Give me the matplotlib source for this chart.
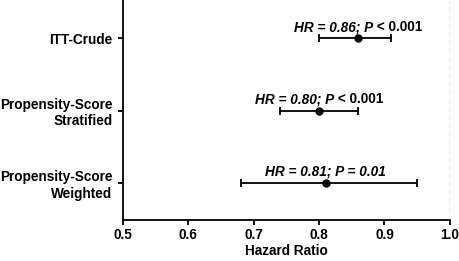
import matplotlib
matplotlib.use("Agg")
import matplotlib.pyplot as plt
from matplotlib.offsetbox import TextArea, HPacker, AnnotationBbox

plt.rcParams['font.family'] = ['Liberation Sans', 'DejaVu Sans']

categories = ["ITT-Crude", "Propensity-Score\nStratified", "Propensity-Score\nWeighted"]
hr = [0.86, 0.80, 0.81]
ci_low = [0.80, 0.74, 0.68]
ci_high = [0.91, 0.86, 0.95]
label_italic = ["HR = 0.86; P", "HR = 0.80; P", "HR = 0.81; P = 0.01"]
label_plain = [" < 0.001", " < 0.001", ""]
xticks = [0.5, 0.6, 0.7, 0.8, 0.9, 1.0]

ypos = [3, 2, 1]
FS = 9.8

fig = plt.figure(figsize=(4.6, 2.61), dpi=100)
ax = fig.add_axes([0.267, 0.158, 0.711, 0.842])

xerr = [[h - l for h, l in zip(hr, ci_low)], [u - h for h, u in zip(hr, ci_high)]]
ax.errorbar(hr, ypos, xerr=xerr, fmt='o', color='black', ms=5, elinewidth=1.3,
            capsize=3.2, capthick=1.3, zorder=3)

ax.axvline(1.0, color='#999999', ls=(0, (4, 2)), lw=1.0, zorder=1)

for h, y, ti, tp in zip(hr, ypos, label_italic, label_plain):
    children = [TextArea(ti, textprops=dict(fontsize=FS, fontweight='bold', fontstyle='italic'))]
    if tp:
        children.append(TextArea(tp, textprops=dict(fontsize=FS, fontweight='bold')))
    pack = HPacker(children=children, pad=0, sep=0, align='baseline')
    ab = AnnotationBbox(pack, (h, y), xybox=(0, 3.0), xycoords='data', boxcoords='offset points',
                        box_alignment=(0.5, 0), frameon=False, pad=0)
    ax.add_artist(ab)

ax.set_xlim(0.5, 1.0)
ax.set_ylim(0.49, 3.53)
ax.set_xticks(xticks)
ax.set_xticklabels([f"{t:.1f}" for t in xticks], fontsize=FS, fontweight='bold')
ax.set_yticks(ypos)
ax.set_yticklabels(categories, fontsize=FS, fontweight='bold', ha='right')
ax.set_xlabel("Hazard Ratio", fontsize=FS, fontweight='bold', labelpad=1)

for s in ['top', 'right']:
    ax.spines[s].set_visible(False)
for s in ['left', 'bottom']:
    ax.spines[s].set_linewidth(1.3)
ax.tick_params(axis='both', width=1.3, length=3.6, direction='out')
ax.tick_params(axis='y', pad=4)
ax.tick_params(axis='x', pad=2.5)

fig.savefig("out.png", dpi=100)
